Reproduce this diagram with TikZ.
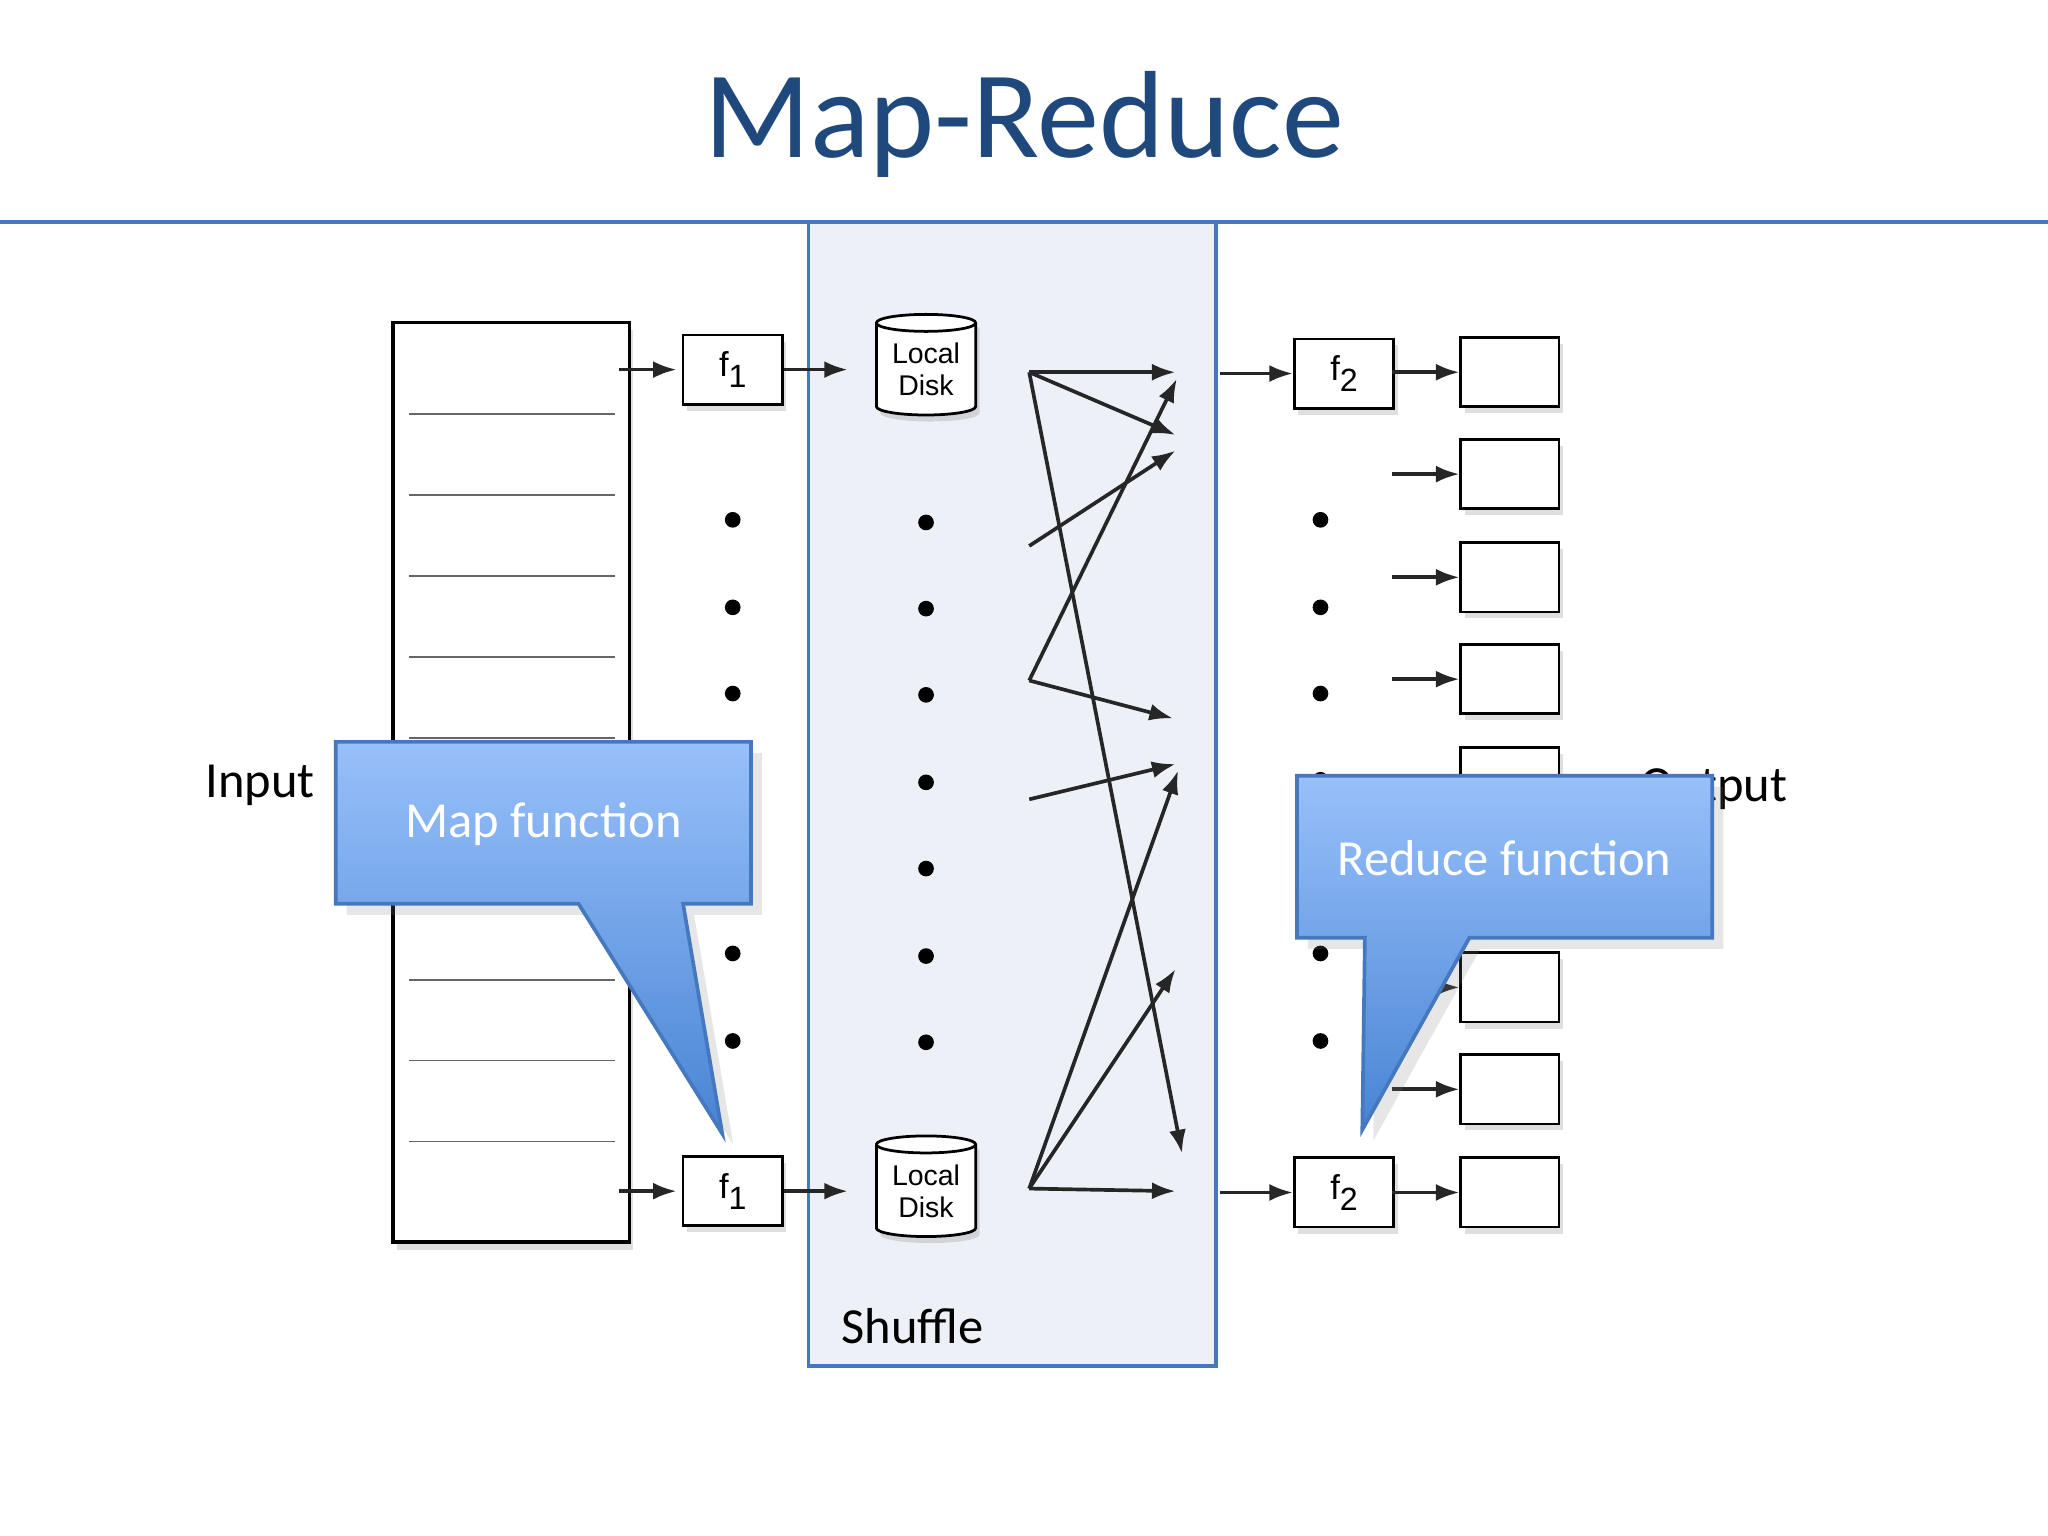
\documentclass[tikz,border=0pt]{standalone}
\usepackage{fontspec}
\setmainfont{Carlito}
\newfontfamily\helv{Liberation Sans}
\usetikzlibrary{shapes.geometric,arrows.meta,shadows}
\definecolor{ttl}{RGB}{31,73,125}
\definecolor{rule}{RGB}{70,120,190}
\definecolor{shuf}{RGB}{238,240,248}
\definecolor{ctop}{RGB}{152,192,250}
\definecolor{cbot}{RGB}{72,132,212}
\newcommand{\fsub}[2]{#1\raisebox{-0.6ex}{\fontsize{7}{8}\selectfont #2}}
\begin{document}
\begin{tikzpicture}[x=0.01cm,y=-0.01cm,
  box/.style={draw,line width=0.6pt,fill=white,minimum width=0.76cm,minimum height=0.53cm,inner sep=0pt,drop shadow={opacity=0.25,shadow xshift=0.03cm,shadow yshift=-0.05cm},font=\helv\fontsize{7.5}{8}\selectfont},
  obox/.style={box,minimum width=0.75cm},
  disk/.style={cylinder,shape border rotate=90,aspect=0.25,draw,line width=0.6pt,fill=white,minimum width=0.76cm,minimum height=0.77cm,inner sep=0pt,align=center,font=\helv\fontsize{6.2}{7}\selectfont,drop shadow={opacity=0.25,shadow xshift=0.03cm,shadow yshift=-0.05cm}},
  ar/.style={-{Latex[length=0.18cm,width=0.13cm]},line width=0.8pt,black!85},
  dot/.style={circle,fill=black,inner sep=0pt,minimum size=0.12cm},
  big/.style={font=\fontsize{11}{13}\selectfont}]
\useasboundingbox (0,0) rectangle (1568,1176);
\node[text=ttl,font=\fontsize{27}{32}\selectfont] (title) at (784,95) {Map-Reduce};
\draw[rule,line width=1pt] (0,170) -- (1568,170);
\draw[rule,fill=shuf,line width=0.8pt] (619,170) rectangle (931,1046);
\node[big,anchor=west] (shuffle) at (632,1015) {Shuffle};
% input
\draw[line width=0.8pt,fill=white,drop shadow={opacity=0.25,shadow xshift=0.03cm,shadow yshift=-0.06cm}] (301,247) rectangle (482,951);
\foreach \y in {317,379,441,503,565,750,812,874} \draw[black!60,line width=0.4pt] (313,\y) -- (471,\y);
\node[big] (input) at (199,601) {Input};
\node[big] (output) at (1312,604) {Output};
% map row
\foreach \n/\y in {a/283,b/912}{
  \coordinate (in\n) at (474,\y);
  \node[box] (f\n) at (561,\y) {\fsub{f}{1}};
  \node[disk] (d\n) at (709,\y) {Local\\Disk};
  \draw[ar] (in\n) -- ++(44,0);
  \draw[ar] (f\n.east) -- ++(49,0);
}
\foreach \y in {398,465,531,730,797} \node[dot] at (561,\y) {};
\foreach \y in {400,466,532,599,665,732,798} \node[dot] at (709,\y) {};
\foreach \y in {398,465,531,597,730,797} \node[dot] at (1011,\y) {};
% shuffle arrows
\coordinate (s1) at (788,285); \coordinate (s2) at (788,418);
\coordinate (s3) at (788,521); \coordinate (s4) at (788,612);
\coordinate (s5) at (788,910);
\coordinate (t1) at (900,285); \coordinate (t2) at (900,333);
\coordinate (t3) at (905,883); \coordinate (t4) at (900,345);
\coordinate (t5) at (901,290); \coordinate (t6) at (898,550);
\coordinate (t7) at (900,585); \coordinate (t8) at (902,590);
\coordinate (t9) at (900,742); \coordinate (t10) at (900,912);
\foreach \s/\t in {s1/t1,s1/t2,s1/t3,s2/t4,s3/t5,s3/t6,s4/t7,s5/t8,s5/t9,s5/t10}
  \draw[ar] (\s) -- (\t);
% reduce
\foreach \n/\y in {a/286,b/913}{
  \coordinate (r\n) at (934,\y);
  \node[box] (g\n) at (1029,\y) {\fsub{f}{2}};
  \draw[ar] (r\n) -- (g\n.west);
}
\foreach \i/\y in {1/285,2/363,3/442,4/520,5/599,7/756,8/834,9/913}{
  \node[obox] (o\i) at (1156,\y) {};
  \coordinate (p\i) at (1066,\y);
  \draw[ar] (p\i) -- (o\i.west);
}
% callouts
\shade[top color=ctop,bottom color=cbot,draw=rule,line width=0.8pt,drop shadow={opacity=0.2}]
 (257,568)--(575,568)--(575,692)--(523,692)--(553,868)--(443,692)--(257,692)--cycle;
\node[big,text=white] (mapf) at (416,631) {Map function};
\shade[top color=ctop,bottom color=cbot,draw=rule,line width=0.8pt,drop shadow={opacity=0.2}]
 (993,594)--(1311,594)--(1311,718)--(1125,718)--(1043,865)--(1045,718)--(993,718)--cycle;
\node[big,text=white] (redf) at (1152,657) {Reduce function};
\end{tikzpicture}
\end{document}
